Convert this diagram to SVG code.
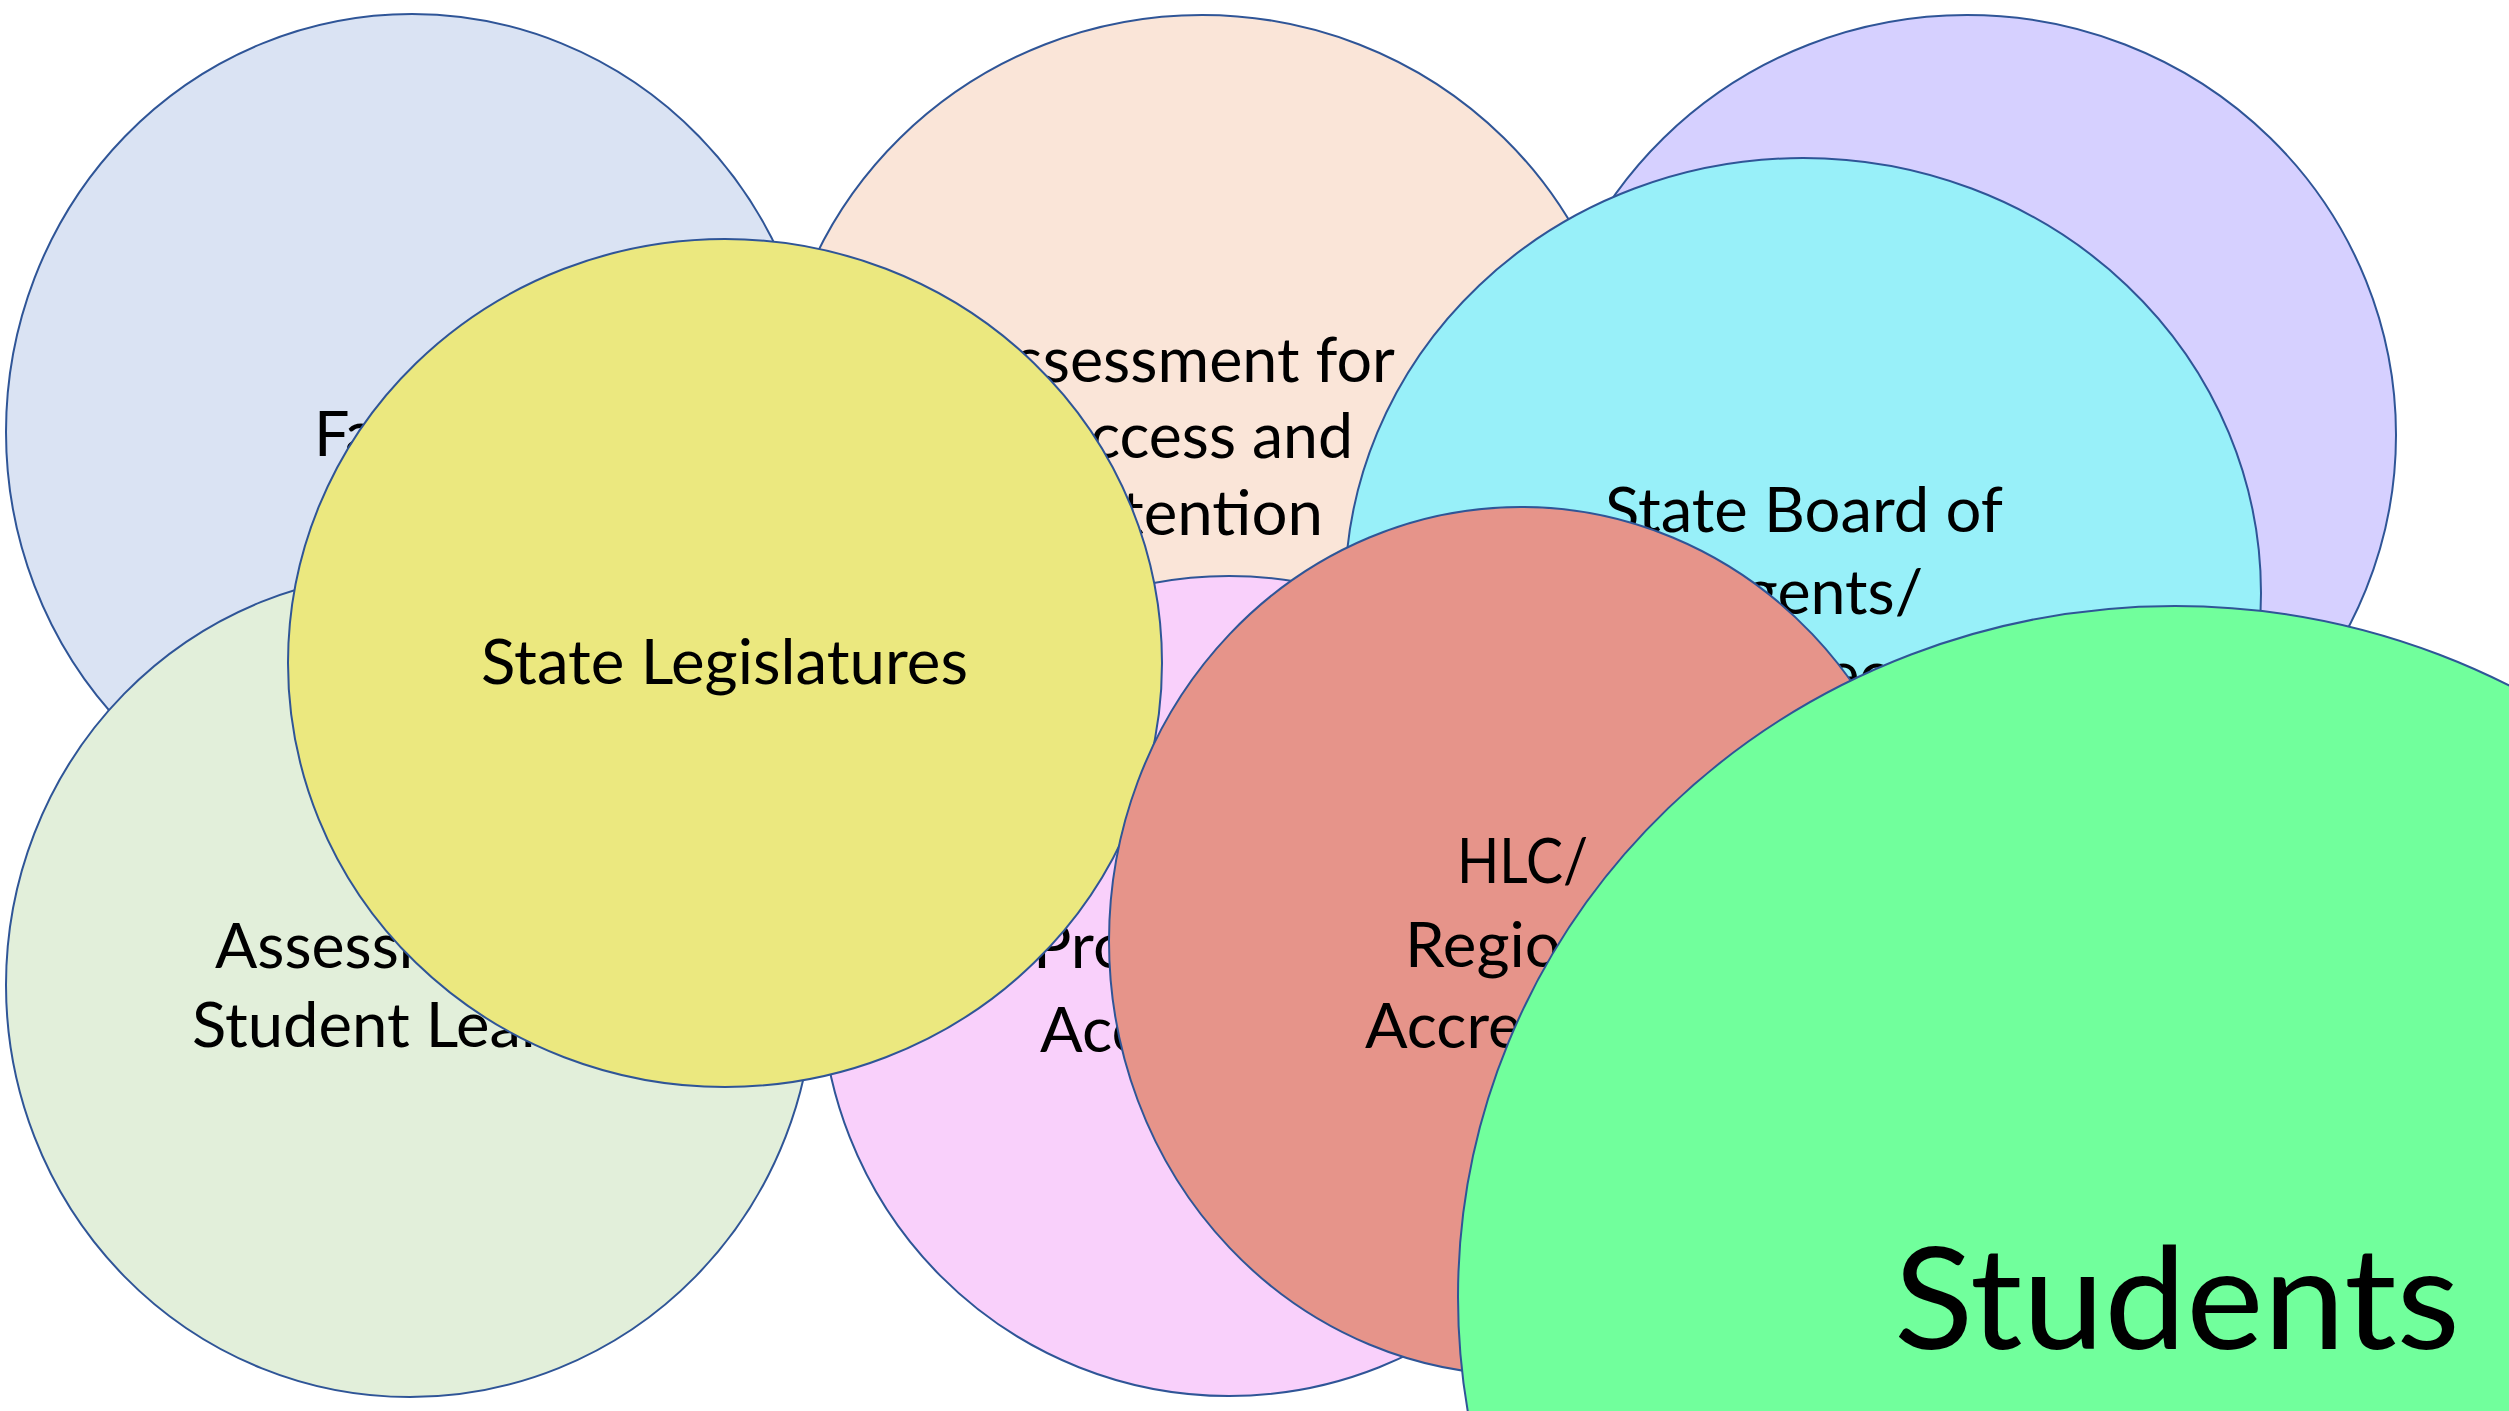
<svg xmlns="http://www.w3.org/2000/svg" width="2509" height="1411" viewBox="0 0 2509 1411">
  <style>
    .bubble { stroke: #2F5597; stroke-width: 2; }
    .label { font-family: Lato, "Open Sans", "Liberation Sans", sans-serif; font-size: 61px; fill: #000000; }
    .big { font-family: Lato, "Open Sans", "Liberation Sans", sans-serif; font-size: 141px; fill: #000000; }
  </style>
  <rect width="2509" height="1411" fill="#FFFFFF"/>

  <g id="faculty">
    <ellipse class="bubble" cx="412" cy="432" rx="406" ry="418" fill="#DAE3F3"/>
    <text class="label" x="314" y="456" textLength="197" lengthAdjust="spacingAndGlyphs">Faculty</text>
  </g>

  <g id="assessment-success-retention">
    <ellipse class="bubble" cx="1202" cy="435" rx="427" ry="420" fill="#FAE5D8"/>
    <text class="label" text-anchor="end" x="1395" y="382" textLength="422" lengthAdjust="spacingAndGlyphs">Assessment for</text>
    <text class="label" text-anchor="end" x="1353" y="458" textLength="331" lengthAdjust="spacingAndGlyphs">Success and</text>
    <text class="label" text-anchor="end" x="1323" y="535" textLength="273" lengthAdjust="spacingAndGlyphs">Retention</text>
  </g>

  <g id="purple-circle">
    <ellipse class="bubble" cx="1967" cy="435" rx="429" ry="420" fill="#D6D0FF"/>
  </g>

  <g id="assessment-student-learning">
    <ellipse class="bubble" cx="410" cy="985" rx="404" ry="412" fill="#E2EFDA"/>
    <text class="label" x="215" y="968" textLength="398" lengthAdjust="spacingAndGlyphs">Assessment of</text>
    <text class="label" x="192" y="1047" textLength="471" lengthAdjust="spacingAndGlyphs">Student Learning</text>
  </g>

  <g id="programmatic-accreditation">
    <ellipse class="bubble" cx="1229" cy="986" rx="408" ry="410" fill="#F9D0FB"/>
    <text class="label" x="1033" y="968" textLength="391" lengthAdjust="spacingAndGlyphs">Programmatic</text>
    <text class="label" x="1040" y="1052" textLength="371" lengthAdjust="spacingAndGlyphs">Accreditation</text>
  </g>

  <g id="state-legislatures">
    <ellipse class="bubble" cx="725" cy="663" rx="437" ry="424" fill="#EBE87F"/>
    <text class="label" x="481" y="684" textLength="487" lengthAdjust="spacingAndGlyphs">State Legislatures</text>
  </g>

  <g id="state-board">
    <ellipse class="bubble" cx="1803" cy="593" rx="458" ry="435" fill="#98F0F9"/>
    <text class="label" x="1605" y="532" textLength="398" lengthAdjust="spacingAndGlyphs">State Board of</text>
    <text class="label" text-anchor="end" x="1923" y="614" textLength="248" lengthAdjust="spacingAndGlyphs">Regents/</text>
    <text class="label" x="1685" y="696" textLength="236" lengthAdjust="spacingAndGlyphs">Trustees</text>
  </g>

  <g id="hlc-regional">
    <ellipse class="bubble" cx="1521" cy="941" rx="412" ry="434" fill="#E6948A"/>
    <text class="label" x="1457" y="883" textLength="131" lengthAdjust="spacingAndGlyphs">HLC/</text>
    <text class="label" x="1405" y="967" textLength="238" lengthAdjust="spacingAndGlyphs">Regional</text>
    <text class="label" x="1365" y="1048" textLength="315" lengthAdjust="spacingAndGlyphs">Accreditors</text>
  </g>

  <g id="students">
    <ellipse class="bubble" cx="2175" cy="1297" rx="717" ry="691" fill="#71FF9C"/>
    <text class="big" x="1894" y="1349" textLength="566" lengthAdjust="spacingAndGlyphs">Students</text>
  </g>

  <g id="connectors"/>
</svg>
